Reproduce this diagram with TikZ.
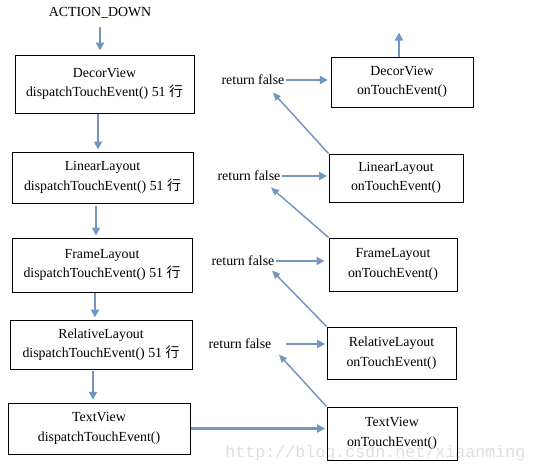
\documentclass[tikz,border=0pt]{standalone}
\usepackage{fontspec}
\setmainfont{Liberation Serif}
\setmonofont{Liberation Mono}
\newfontfamily\cjkfont{Noto Sans CJK SC}
\usetikzlibrary{arrows.meta}
\definecolor{flowblue}{RGB}{114,150,192}
\newcommand{\hang}{51 {\cjkfont 行}}

\begin{document}
\begin{tikzpicture}[x=0.75pt,y=-0.75pt,
    box/.style={draw,line width=0.75pt,align=center,inner sep=0pt,
      font=\fontsize{10.4}{14.5}\selectfont},
    sz/.style 2 args={minimum width=#1*0.75pt,minimum height=#2*0.75pt},
    lbl/.style={font=\fontsize{10.4}{12}\selectfont,inner sep=1pt},
    flow/.style={draw=flowblue,line width=1.6pt,-{Triangle[length=6pt,width=6pt]}},
    back/.style={draw=flowblue,line width=1.1pt,-{Triangle[length=6pt,width=5pt]}}]
    \useasboundingbox (0,0) rectangle (537,471);
    % watermark
    \node[anchor=base west,inner sep=0pt,text=black!13,
      font=\ttfamily\fontsize{12.5}{14}\selectfont] (mark) at (225,457) {http://blog.csdn.net/xiaanming};
    % dispatch side
    \node[lbl] (down) at (100,13) {ACTION\_DOWN};
    \node[box,sz={179}{58}] (dv) at (104.5,84) {DecorView\\dispatchTouchEvent() \hang};
    \node[box,sz={181}{51}] (ll) at (102.5,177.5) {LinearLayout\\dispatchTouchEvent() \hang};
    \node[box,sz={180}{54}] (fl) at (102,265) {FrameLayout\\dispatchTouchEvent() \hang};
    \node[box,sz={182}{49}] (rl) at (101,344.5) {RelativeLayout\\dispatchTouchEvent() \hang};
    \node[box,sz={182}{51}] (tv) at (99,428.5) {TextView\\dispatchTouchEvent()};
    % onTouchEvent side
    \node[box,sz={142}{50}] (odv) at (402,82) {DecorView\\onTouchEvent()};
    \node[box,sz={134}{48}] (oll) at (396,178) {LinearLayout\\onTouchEvent()};
    \node[box,sz={128}{53}] (ofl) at (393,264.5) {FrameLayout\\onTouchEvent()};
    \node[box,sz={129}{52}] (orl) at (391.5,353) {RelativeLayout\\onTouchEvent()};
    \node[box,sz={130}{53}] (otv) at (392,433.5) {TextView\\onTouchEvent()};
    \node[lbl] (rf1) at (253,80) {return false};
    \node[lbl] (rf2) at (249,176) {return false};
    \node[lbl] (rf3) at (243,261) {return false};
    \node[lbl] (rf4) at (240,344) {return false};
    % down the tree
    \draw[flow,shorten <=5pt,shorten >=3pt] (down.south) -- (down.south |- dv.north);
    \draw[flow,shorten >=1.5pt] ([xshift=-6.5*0.75pt]dv.south) -- ([xshift=-6.5*0.75pt]dv.south |- ll.north);
    \draw[flow,shorten <=2pt,shorten >=1.5pt] ([xshift=-6.5*0.75pt]ll.south) -- ([xshift=-6.5*0.75pt]ll.south |- fl.north);
    \draw[flow,shorten >=1.5pt] ([xshift=-7*0.75pt]fl.south) -- ([xshift=-7*0.75pt]fl.south |- rl.north);
    \draw[flow,shorten <=1pt,shorten >=2pt] ([xshift=-8*0.75pt]rl.south) -- ([xshift=-8*0.75pt]rl.south |- tv.north);
    \draw[flow,shorten >=1pt] (tv.east) -- (tv.east -| otv.west);
    % back up the tree
    \draw[back] (otv.north west) -- ([shift={(6,4)}]rf4.south east);
    \draw[back] (orl.north west) -- ([shift={(-4,3)}]rf3.south east);
    \draw[back] (ofl.north west) -- ([shift={(-11,5)}]rf2.south east);
    \draw[back] (oll.north west) -- ([shift={(-13,6)}]rf1.south east);
    \draw[flow,shorten <=10pt,shorten >=1pt] (rf4.east) -- (rf4.east -| orl.west);
    \draw[flow,shorten >=3pt] (rf3.east) -- (rf3.east -| ofl.west);
    \draw[flow,shorten >=1pt] (rf2.east) -- (rf2.east -| oll.west);
    \draw[flow,shorten >=2pt] (rf1.east) -- (rf1.east -| odv.west);
    \draw[flow] ([xshift=-3*0.75pt]odv.north) -- ++(0,-24);
\end{tikzpicture}
\end{document}
